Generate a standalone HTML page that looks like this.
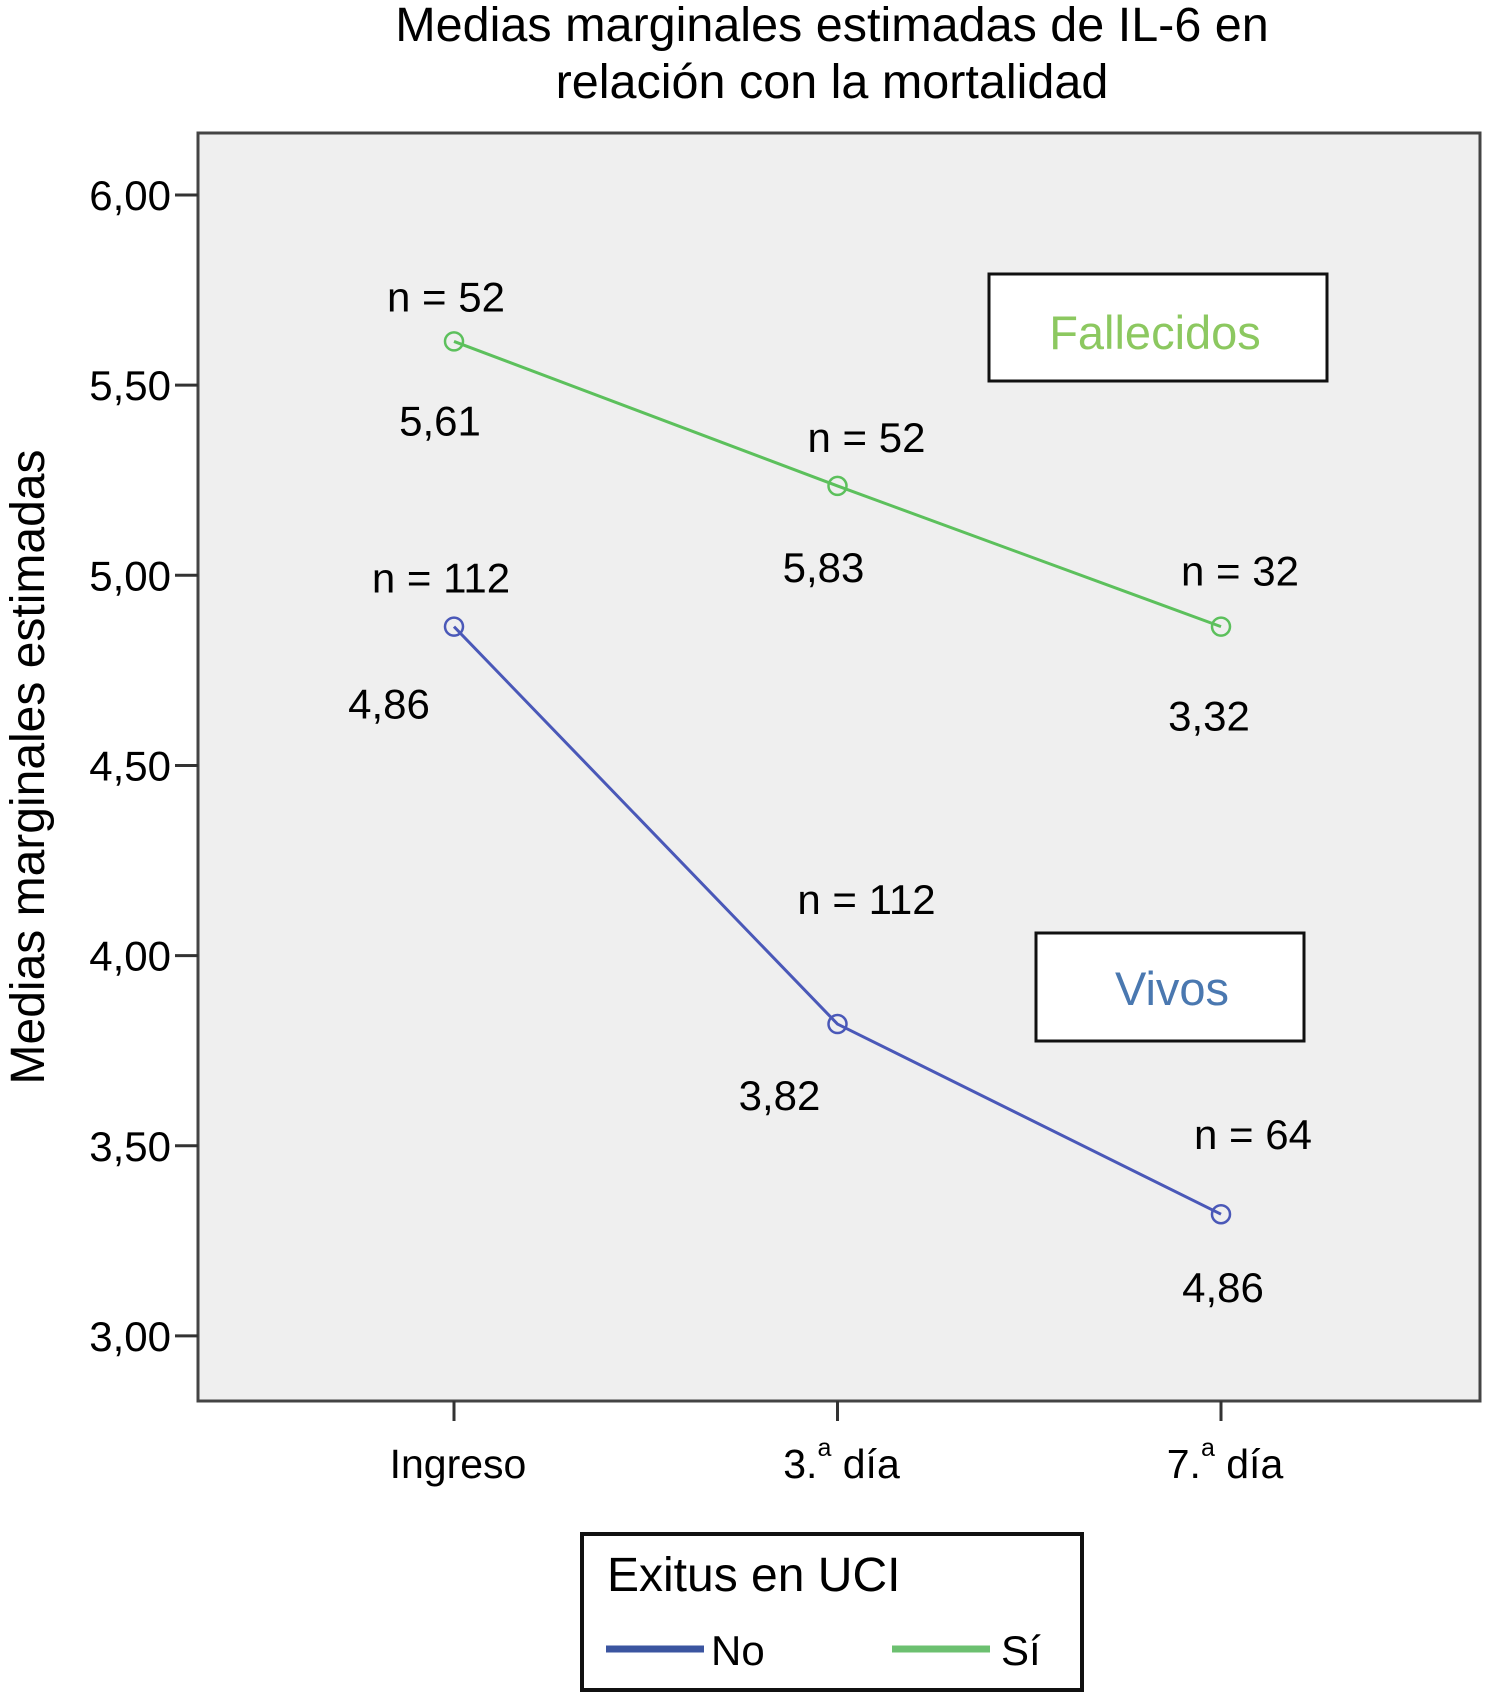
<!DOCTYPE html>
<html><head><meta charset="utf-8"><style>
html,body{margin:0;padding:0;background:#fff}
svg{display:block;font-family:"Liberation Sans",Arial,sans-serif}
</style></head><body>
<svg id="chart" width="1491" height="1692" viewBox="0 0 1491 1692">
<text x="832" y="41" font-size="48.5" text-anchor="middle">Medias marginales estimadas de IL-6 en</text>
<text x="832" y="98" font-size="48.5" text-anchor="middle">relación con la mortalidad</text>
<rect x="198" y="133" width="1282" height="1268" fill="#efefef" stroke="#444" stroke-width="3"/>
<text transform="translate(44,767) rotate(-90)" font-size="48" text-anchor="middle">Medias marginales estimadas</text>
<g id="yaxis"></g>
<g id="xaxis"></g>
<g id="series"></g>
<g id="annots"></g>
<rect x="989" y="274" width="338" height="107" fill="#fff" stroke="#111" stroke-width="3"/>
<text x="1155" y="349" font-size="47" fill="#8cc860" text-anchor="middle">Fallecidos</text>
<rect x="1036" y="933" width="268" height="108" fill="#fff" stroke="#111" stroke-width="3"/>
<text x="1172" y="1005" font-size="47" fill="#4a78b0" text-anchor="middle">Vivos</text>
<g>
<rect x="582" y="1534" width="500" height="156" fill="#fff" stroke="#111" stroke-width="4"/>
<text x="607" y="1591" font-size="48">Exitus en UCI</text>
<line x1="606" y1="1649" x2="704" y2="1649" stroke="#3b55a0" stroke-width="7"/>
<text x="711" y="1665" font-size="42">No</text>
<line x1="892" y1="1649" x2="990" y2="1649" stroke="#6cc070" stroke-width="7"/>
<text x="1001" y="1665" font-size="42">Sí</text>
</g>
</svg>
<script>
const categories=["Ingreso","3.ª día","7.ª día"];
const yTicks=[3,3.5,4,4.5,5,5.5,6];
const yTickLabels=["3,00","3,50","4,00","4,50","5,00","5,50","6,00"];
const fallecidosValues=[5.615,5.235,4.865];
const vivosValues=[4.865,3.82,3.32];
const fallecidosN=["n = 52","n = 52","n = 32"];
const vivosN=["n = 112","n = 112","n = 64"];
const fallecidosPrinted=["5,61","5,83","3,32"];
const vivosPrinted=["4,86","3,82","4,86"];
const NS="http://www.w3.org/2000/svg";
const yS=v=>195+(6-v)*380.3;
const xS=i=>454+i*383.5;
function mk(t,a,p){const e=document.createElementNS(NS,t);for(const k in a)e.setAttribute(k,a[k]);p.appendChild(e);return e;}
const ya=document.getElementById('yaxis');
yTicks.forEach((v,i)=>{
 const l=mk('line',{x1:175,x2:198,y1:yS(v),y2:yS(v),stroke:'#333','stroke-width':3},ya);
 
 
 const t=mk('text',{x:171,y:yS(v)+15,'font-size':42,'text-anchor':'end'},ya);
 t.textContent=yTickLabels[i];
 
 
});
const xa=document.getElementById('xaxis');
categories.forEach((c,i)=>{
 const l=mk('line',{x1:xS(i),x2:xS(i),y1:1401,y2:1421,stroke:'#333','stroke-width':3},xa);
 
 
 const t=mk('text',{x:xS(i)+4,y:1478,'font-size':41,'text-anchor':'middle'},xa);
 if(c.includes('ª')){const parts=c.split('ª');t.textContent=parts[0];const s=mk('tspan',{dy:-22,'font-size':25},t);s.textContent='a';const r=mk('tspan',{dy:22},t);r.textContent=parts[1];}
 else t.textContent=c;
 
 
});
const sg=document.getElementById('series');
function series(vals,color,name){
 const pl=mk('polyline',{points:vals.map((v,i)=>xS(i)+','+yS(v)).join(' '),fill:'none',stroke:color,'stroke-width':3},sg);
 
 
 vals.forEach((v,i)=>{
  const c=mk('circle',{cx:xS(i),cy:yS(v),r:9,fill:'none',stroke:color,'stroke-width':2.5},sg);
  
  
 });
}
series(fallecidosValues,'#5cc05c','fallecidos');
series(vivosValues,'#4a58b8','vivos');
const an=document.getElementById('annots');
function lab(txt,x,y,name){const t=mk('text',{x:x,y:y,'font-size':42,'text-anchor':'middle'},an);t.textContent=txt;
 
 }
fallecidosValues.forEach((v,i)=>{
 lab(fallecidosN[i],xS(i)+[-8,29,19][i],yS(v)+[-30,-34,-41][i],'fallecidos-n-label');
 lab(fallecidosPrinted[i],xS(i)+[-14,-14,-12][i],yS(v)+[94,96,104][i],'fallecidos-value-label');
});
vivosValues.forEach((v,i)=>{
 lab(vivosN[i],xS(i)+[-13,29,32][i],yS(v)+[-34,-110,-65][i],'vivos-n-label');
 lab(vivosPrinted[i],xS(i)+[-65,-58,2][i],yS(v)+[92,86,88][i],'vivos-value-label');
});
</script>
</body></html>
